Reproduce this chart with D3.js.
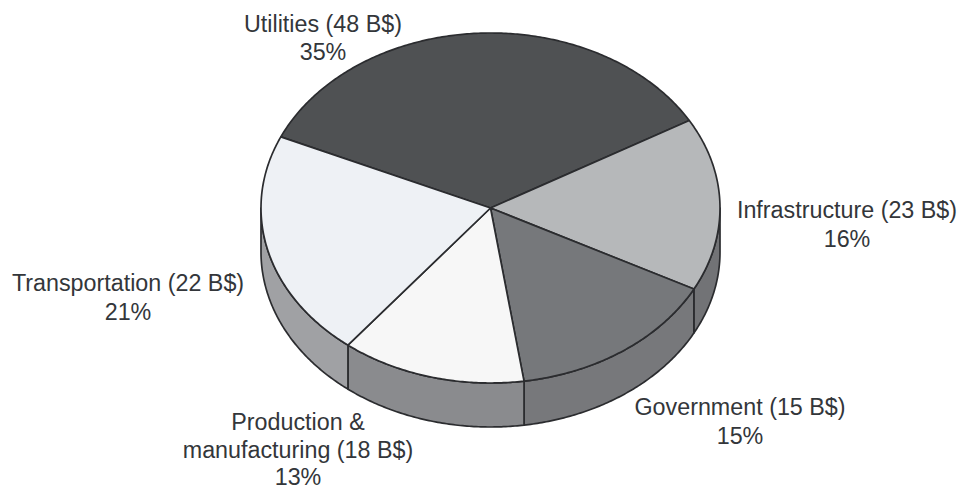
<!DOCTYPE html>
<html>
<head>
<meta charset="utf-8">
<script src="https://cdn.jsdelivr.net/npm/d3@7"></script>
<style>
  html, body { margin: 0; padding: 0; background: #fff; }
  svg { display: block; }
  text { font-family: "Liberation Sans", Arial, sans-serif; font-size: 23.3px; fill: #33363a; text-anchor: middle; }
</style>
</head>
<body>
<svg id="chart" width="960" height="490"></svg>
<script>
// Market segments, clockwise from the top slice
const segments = ["Utilities", "Infrastructure", "Government", "Production & manufacturing", "Transportation"];
const spending = [48, 23, 15, 18, 22];
const shares = [35, 16, 15, 13, 21];
const topColors = ["#4f5153", "#b6b8ba", "#76787b", "#f7f7f7", "#eef1f5"];
const wallColors = ["#6f7073", "#727376", "#77787b", "#8a8b8e", "#a0a1a4"];

// Label lines and anchors, one entry per segment
const labelLines = [
  [`${segments[0]} (${spending[0]} B$)`, `${shares[0]}%`],
  [`${segments[1]} (${spending[1]} B$)`, `${shares[1]}%`],
  [`${segments[2]} (${spending[2]} B$)`, `${shares[2]}%`],
  ["Production &", `manufacturing (${spending[3]} B$)`, `${shares[3]}%`],
  [`${segments[4]} (${spending[4]} B$)`, `${shares[4]}%`]
];
const labelX = [323, 847, 740, 298, 128];
const labelY = [31.5, 218, 415, 430, 291];
const lineSteps = [28.5, 28.5, 28.5, 27.5, 28.5];

const svg = d3.select("#chart");
const width = 960, height = 490;

// The disc is a tilted circle: unit coordinates map onto an ellipse
const x = d3.scaleLinear().domain([-1, 1]).range([261, 720]);
const y = d3.scaleLinear().domain([-1, 1]).range([33, 383]);
const depth = 44;

const pie = d3.pie().sort(null).value(d => d)
  .startAngle(-66 * Math.PI / 180)
  .endAngle((360 - 66) * Math.PI / 180);
const slices = pie(shares);

const rimPoint = a => [x(Math.sin(a)), y(-Math.cos(a))];
const sampleArc = (a0, a1) => {
  const n = Math.max(2, Math.ceil(Math.abs(a1 - a0) / 0.01));
  return d3.range(n + 1).map(i => a0 + (a1 - a0) * i / n);
};
const line = d3.line();

// Side wall: only the front half of the rim is visible
const wallGroup = svg.append("g");
slices.forEach((s, i) => {
  [[s.startAngle, s.endAngle], [s.startAngle + 2 * Math.PI, s.endAngle + 2 * Math.PI]].forEach(([a0, a1]) => {
    const from = Math.max(a0, Math.PI / 2), to = Math.min(a1, 3 * Math.PI / 2);
    if (to <= from) return;
    const upper = sampleArc(from, to).map(rimPoint);
    const lower = upper.slice().reverse().map(([px, py]) => [px, py + depth]);
    wallGroup.append("path")
      .attr("d", line(upper.concat(lower)) + "Z")
      .attr("fill", wallColors[i])
      .attr("stroke", "#2b2c2f")
      .attr("stroke-width", 1.7)
      .attr("stroke-linejoin", "round");
  });
});

// Top face
const centre = [x(0), y(0)];
const faceGroup = svg.append("g");
slices.forEach((s, i) => {
  faceGroup.append("path")
    .attr("d", line([centre].concat(sampleArc(s.startAngle, s.endAngle).map(rimPoint))) + "Z")
    .attr("fill", topColors[i])
    .attr("stroke", "#2b2c2f")
    .attr("stroke-width", 1.7)
    .attr("stroke-linejoin", "round");
});

// Segment labels
const labels = svg.append("g");
labelLines.forEach((lines, i) => {
  const t = labels.append("text").attr("x", labelX[i]).attr("y", labelY[i]);
  lines.forEach((txt, j) => {
    t.append("tspan").attr("x", labelX[i]).attr("y", labelY[i] + j * lineSteps[i]).text(txt);
  });
});
</script>
</body>
</html>
